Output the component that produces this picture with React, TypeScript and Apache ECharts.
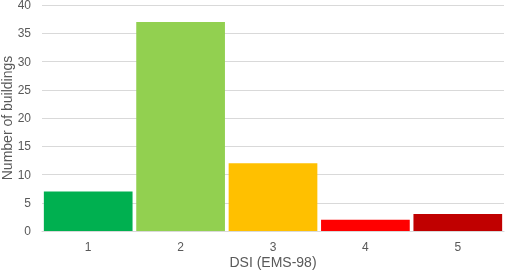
import React, { useEffect, useRef } from "react";
import * as echarts from "echarts";

const categories = ["1", "2", "3", "4", "5"];
const values = [7, 37, 12, 2, 3];
const colors = ["#00B050", "#92D050", "#FFC000", "#FF0000", "#C00000"];

export default function App() {
  const ref = useRef<HTMLDivElement>(null);
  useEffect(() => {
    const chart = echarts.init(ref.current!, null, { renderer: "svg" });
    chart.setOption({
      animation: false,
      textStyle: { fontFamily: "Liberation Sans, Arial, sans-serif" },
      grid: { left: 42, right: 1, top: 5, bottom: 42, containLabel: false, outerBoundsMode: "none" },
      xAxis: {
        type: "category",
        data: categories,
        name: "DSI (EMS-98)",
        nameLocation: "middle",
        nameGap: 24,
        nameMoveOverlap: false,
        nameTextStyle: { fontSize: 14, color: "#595959" },
        axisLine: { lineStyle: { color: "#d9d9d9" } },
        axisTick: { show: false },
        axisLabel: { fontSize: 12, color: "#595959", margin: 10 },
      },
      yAxis: {
        type: "value",
        min: 0,
        max: 40,
        interval: 5,
        name: "Number of buildings",
        nameLocation: "middle",
        nameGap: 28,
        nameMoveOverlap: false,
        nameTextStyle: { fontSize: 14, color: "#595959" },
        axisLine: { show: false },
        axisTick: { show: false },
        axisLabel: { fontSize: 12, color: "#595959", margin: 11 },
        splitLine: { lineStyle: { color: "#d9d9d9", width: 1 } },
      },
      series: [
        {
          type: "bar",
          data: values.map((v, i) => ({ value: v, itemStyle: { color: colors[i] } })),
          barCategoryGap: "4%",
        },
      ],
    });
    return () => chart.dispose();
  }, []);
  return (
    <div
      ref={ref}
      style={{ position: "fixed", left: 0, top: 0, width: 505, height: 273 }}
    />
  );
}
